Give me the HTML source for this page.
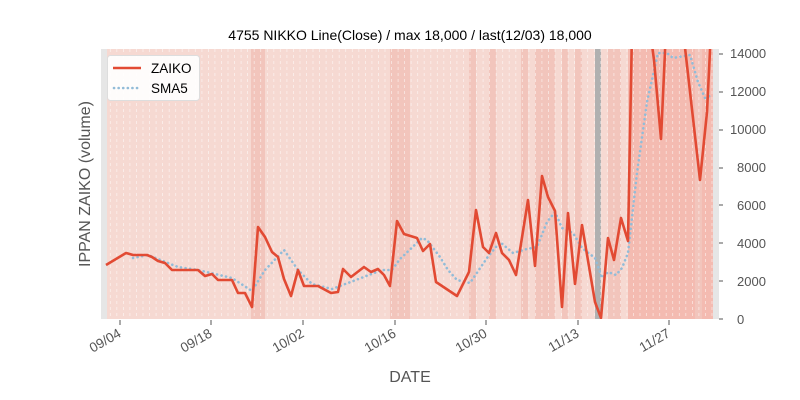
<!DOCTYPE html>
<html><head><meta charset="utf-8"><style>body{margin:0;background:#fff}svg{display:block;font-family:"Liberation Sans","DejaVu Sans",sans-serif}</style></head><body>
<svg width="800" height="400" viewBox="0 0 800 400">
<rect x="101" y="49" width="618" height="270" fill="#f6d9d2"/>
<rect x="101" y="49" width="6" height="270" fill="#e6e6e6"/>
<rect x="713" y="49" width="6" height="270" fill="#e6e6e6"/>
<g fill="#f2c5bc">
<rect x="251" y="49" width="14" height="270"/>
<rect x="390" y="49" width="20" height="270"/>
<rect x="469" y="49" width="7" height="270"/>
<rect x="489" y="49" width="7" height="270"/>
<rect x="521" y="49" width="7" height="270"/>
<rect x="535" y="49" width="20" height="270"/>
<rect x="562" y="49" width="6" height="270"/>
<rect x="575" y="49" width="7" height="270"/>
<rect x="608" y="49" width="13" height="270"/>
</g>
<rect x="628" y="49" width="85" height="270" fill="#f4bbb1"/>
<rect x="695" y="49" width="7" height="270" fill="#f2c5bc"/>
<rect x="595" y="49" width="6" height="270" fill="#b0b0b0"/>
<g stroke="#fff" stroke-opacity="0.6" stroke-width="0.8" stroke-dasharray="3,3" id="vl"></g>
<polyline fill="none" stroke="#92bcd8" stroke-width="2.6" stroke-dasharray="0.1,4.5" stroke-linecap="round" points="133,258 148,255 178,267 198,270 232,278 252,291 265,270 284,250 298,270 312,284 332,289 348,283 382,270 392,270 400,259 422,238 427,240 440,257 448,270 457,280 470,283 487,258 500,242 513,253 527,249 537,247 547,222 555,212 562,228 573,233 582,248 595,258 602,278 608,272 616,275 622,268 628,253 637,173 647,102 658,53 667,53 673,58 690,55 698,82 705,98 712,95"/>
<svg x="101" y="49" width="618" height="270" viewBox="101 49 618 270" overflow="hidden">
<polyline fill="none" stroke="#e24a33" stroke-width="2.6" stroke-linejoin="round" points="106,265 126,253 133,255 147,255 152,257 158,261 165,263 172,270 198,270 205,276 212,274 218,280 232,280 238,293 245,293 252,307 258,227 265,237 272,252 278,257 284,279 291,296 298,270 304,286 318,286 331,293 338,292 343,269 351,277 364,267 371,272 378,269 384,275 390,286 397,221 404,234 417,238 423,251 430,244 436,282 457,296 469,272 476,210 483,247 489,253 496,233 502,253 509,260 516,275 528,200 535,266 542,176 548,197 555,211 562,307 568,213 575,284 582,225 595,302 601,318 608,238 614,260 621,218 628,241 632,30 650,30 654,60 661,139 666,30 683,30 700,180 707,112 711,30"/>
</svg>
<g font-size="13" fill="#555">
<text x="730" y="58">14000</text><text x="730" y="96">12000</text><text x="730" y="134">10000</text>
<text x="737" y="172">8000</text><text x="737" y="210">6000</text><text x="737" y="248">4000</text>
<text x="737" y="286">2000</text><text x="737" y="324">0</text>
</g>
<g stroke="#555" stroke-width="1">
<line x1="719" y1="54" x2="723" y2="54"/><line x1="719" y1="92" x2="723" y2="92"/><line x1="719" y1="130" x2="723" y2="130"/><line x1="719" y1="168" x2="723" y2="168"/><line x1="719" y1="205" x2="723" y2="205"/><line x1="719" y1="243" x2="723" y2="243"/><line x1="719" y1="281" x2="723" y2="281"/><line x1="719" y1="319" x2="723" y2="319"/>
<line x1="120" y1="320" x2="120" y2="325"/><line x1="211" y1="320" x2="211" y2="325"/><line x1="303" y1="320" x2="303" y2="325"/><line x1="395" y1="320" x2="395" y2="325"/><line x1="486" y1="320" x2="486" y2="325"/><line x1="578" y1="320" x2="578" y2="325"/><line x1="669" y1="320" x2="669" y2="325"/>
</g>
<g font-size="13.5" fill="#555" text-anchor="end">
<text transform="translate(122,336) rotate(-30)">09/04</text>
<text transform="translate(213,336) rotate(-30)">09/18</text>
<text transform="translate(305,336) rotate(-30)">10/02</text>
<text transform="translate(397,336) rotate(-30)">10/16</text>
<text transform="translate(488,336) rotate(-30)">10/30</text>
<text transform="translate(580,336) rotate(-30)">11/13</text>
<text transform="translate(671,336) rotate(-30)">11/27</text>
</g>
<text x="410" y="40" font-size="14" text-anchor="middle" fill="#000">4755 NIKKO Line(Close) / max 18,000 / last(12/03) 18,000</text>
<text x="410" y="382" font-size="16" text-anchor="middle" fill="#555">DATE</text>
<text transform="translate(90,184) rotate(-90)" font-size="16" text-anchor="middle" fill="#555">IPPAN ZAIKO (volume)</text>
<rect x="107.5" y="55.5" width="92" height="45" rx="3" fill="#fff" fill-opacity="0.9" stroke="#ddd"/>
<line x1="113" y1="68" x2="141" y2="68" stroke="#e24a33" stroke-width="2.6"/>
<line x1="114" y1="88" x2="141" y2="88" stroke="#92bcd8" stroke-width="2.6" stroke-dasharray="0.1,4.5" stroke-linecap="round"/>
<text x="151" y="73" font-size="13.5" fill="#000">ZAIKO</text>
<text x="151" y="93" font-size="13.5" fill="#000">SMA5</text>
</svg>
<script>
var g=document.getElementById('vl'),s='';
for(var x=110.3;x<713;x+=6.54){s+='<line x1="'+x.toFixed(1)+'" y1="49" x2="'+x.toFixed(1)+'" y2="319"/>';}
g.innerHTML=s;
</script>
</body></html>
